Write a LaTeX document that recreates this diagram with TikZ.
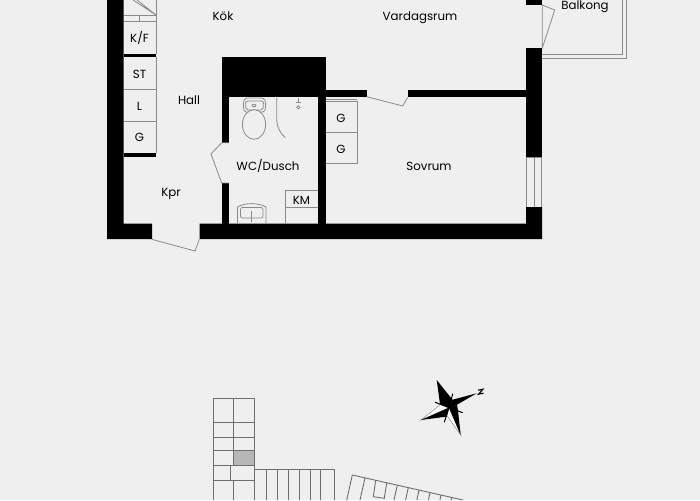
\documentclass[tikz,border=0pt]{standalone}
\usepackage{fontspec}
\setmainfont{Poppins}
\definecolor{bg}{HTML}{EFEFEF}
\definecolor{ln}{HTML}{8A8A8A}
\tikzset{
  wall/.style={fill=black,draw=none},
  thin/.style={draw=ln,line width=0.8pt},
  plan/.style={draw=ln!80!black,line width=0.9pt},
  lab/.style={font=\fontsize{11.8}{13}\selectfont,text=black,inner sep=0pt,text height=8.6pt,text depth=0pt}
}
\begin{document}
\begin{tikzpicture}[x=1pt,y=-1pt]
\useasboundingbox (0,0) rectangle (700,500);
\fill[bg] (0,0) rectangle (700,500);
% balcony
\draw[thin] (542,54.5)--(622.7,54.5)--(622.7,0);
\draw[thin] (542,58.3)--(626.3,58.3)--(626.3,0);
\draw[thin] (542.3,5)--(554.7,10)--(542.3,48)--cycle;
% walls
\fill[wall] (107,0)--(123.5,0)--(123.5,223.5)--(152,223.5)--(152,239)--(107,239)--cycle;
\fill[wall] (199.5,223.5)--(526,223.5)--(526,207)--(542,207)--(542,239)--(199.5,239)--cycle;
\fill[wall] (526,48) rectangle (542,157.5);
\fill[wall] (526,0) rectangle (542,5);
\fill[wall] (221.5,57) rectangle (326,97);
\fill[wall] (221.5,97) rectangle (228.5,142.7);
\fill[wall] (221.5,183) rectangle (228.5,223.5);
\fill[wall] (318,90) rectangle (326,223.5);
\fill[wall] (326,90) rectangle (367,97.5);
\fill[wall] (408,90) rectangle (526,97.5);
\fill[wall] (123.5,54) rectangle (156,57.5);
\fill[wall] (123.5,152.5) rectangle (156,156.5);
% cabinets
\draw[thin] (156,0)--(156,54);
\draw[thin] (123.5,15)--(156,15);
\draw[thin] (123.5,21.7)--(156,21.7);
\draw[thin] (139.7,15)--(139.7,21.7);
\draw[thin] (133,0)--(156,15)--(137,0);
\draw[thin] (156,57.5)--(156,152.5);
\draw[thin] (123.5,89)--(156,89);
\draw[thin] (123.5,121)--(156,121);
\draw[thin] (326,99)--(357,99);
\draw[thin] (326,101.7)--(357,101.7)--(357,163.5)--(326,163.5);
\draw[thin] (326,132.5)--(357,132.5);
% doors
\draw[thin] (228.5,142.7)--(221.7,142.7)--(211,154)--(221.7,183)--(228.5,183);
\draw[thin] (151.7,239.3)--(195,251)--(199.3,239.3);
\draw[thin] (366.7,96.7)--(402.7,106)--(407.7,97.3);
% window
\draw[thin] (526.7,157.5)--(526.7,207);
\draw[thin] (534,157.5)--(534,207);
\draw[thin] (541.7,157.5)--(541.7,207);
\draw[thin] (526,157.5)--(542,157.5);
% KM
\draw[thin] (285,223.5)--(285,190.7)--(318,190.7);
\draw[thin] (285,207.3)--(318,207.3);
% sink
\draw[thin] (237.5,223.5)--(237.5,207) .. controls (245,202.5) and (258,202.5) .. (266,207)--(266,223.5);
\draw[thin,rounded corners=2pt] (240.5,207.5) rectangle (263,218);
\draw[thin,line width=1pt] (251.5,211)--(251.5,222);
% toilet
\draw[thin,rounded corners=2pt] (244,112)--(243.2,102)--(245,98)--(264,98)--(265.8,102)--(265,112)--cycle;
\draw[thin,rounded corners=2pt] (246,110)--(245.5,101)--(263.5,101)--(263,110)--cycle;
\draw[thin] (254,105.5) ellipse (2pt and 1.2pt);
\draw[thin,fill=bg] (254,124.5) ellipse (11.6pt and 14.8pt);
% shower
\draw[thin] (276.7,97.3)--(276.7,118) .. controls (276.7,127) and (280,133) .. (285.3,137.7);
\draw[thin,line width=1.2pt] (298.3,98)--(298.3,103);
\draw[thin] (298.3,107.3) circle (1.6pt);
\draw[thin] (296,102.5)--(300.6,102.5);
% labels
\node[lab] (kok) at (223,16) {Kök};
\node[lab] (vard) at (420,16) {Vardagsrum};
\node[lab] (balk) at (585,5) {Balkong};
\node[lab] (kf) at (139.5,38) {K/F};
\node[lab] (st) at (139.5,74) {ST};
\node[lab] (l) at (139.5,106) {L};
\node[lab] (g1) at (139.5,137) {G};
\node[lab] (hall) at (189,100) {Hall};
\node[lab] (wc) at (268,166) {WC/Dusch};
\node[lab] (kpr) at (171,192) {Kpr};
\node[lab] (km) at (301.5,200) {KM};
\node[lab] (g2) at (341,118) {G};
\node[lab] (g3) at (341,149) {G};
\node[lab] (sov) at (429,166) {Sovrum};
% site plan
\fill[ln!55!bg] (233.7,450.3) rectangle (254.3,465.3);
\draw[plan] (213,500)--(213,398.7)--(254.3,398.7)--(254.3,500);
\draw[plan] (233.7,398.7)--(233.7,465.3);
\draw[plan] (233.7,480.7)--(233.7,500);
\draw[plan] (230.3,465.3)--(230.3,480.7);
\foreach \y in {422.3,437.7,450.3,465.3,480.7}{\draw[plan] (213,\y)--(254.3,\y);}
\draw[plan] (254.3,469)--(334.7,469)--(334.7,500);
\foreach \x in {266,277.3,288.3,299.3,310,320.7}{\draw[plan] (\x,469)--(\x,500);}
\draw[plan] (346.7,500)--(352.3,475)--(463,500);
\draw[plan] (365,477.9)--(360,500);
\draw[plan] (375.7,480.3)--(373.3,496.7)--(384.3,498.3)--(386.7,482.8);
\foreach \a/\b in {397.3/485.2, 408.3/487.7, 419/490.1, 430/492.6, 441/495, 451.7/497.5}{\draw[plan] (\a,\b)--({\a-0.22*(500-\b)},500);}
% compass
\begin{scope}[shift={(449,407.7)}]
  \draw[ln,line width=0.5pt,fill=white] (-28,12.3)--(-8,-3.5)--(0,0)--cycle;
  \draw[ln,line width=0.5pt,fill=white] (11.7,27.3)--(-2,8)--(0,0)--cycle;
  \fill[black] (-12.3,-27.7)--(-9,-3.5)--(0,0)--(3.5,-8)--cycle;
  \fill[black] (27.7,-14.4)--(3.5,-8)--(0,0)--(8,-3)--cycle;
  \fill[black] (11.7,27.3)--(9,3)--(0,0)--cycle;
  \fill[black] (-28,12.3)--(-3,9)--(0,0)--cycle;
  \fill[black] (8,-3)--(9,3)--(0,0)--cycle;
  \draw[black,line width=1pt] (0,0)--(3.7,-14);
  \draw[black,line width=1pt] (0,0)--(-14,-5.5);
  \draw[black,line width=1pt] (0,0)--(-4.7,14.5);
  \draw[black,line width=1pt] (0,0)--(13.7,5);
  \draw[black,line width=1.1pt] (29,-17.5)--(34,-18.5)--(29.5,-13.5)--(34.5,-14.5);
\end{scope}
\end{tikzpicture}
\end{document}
